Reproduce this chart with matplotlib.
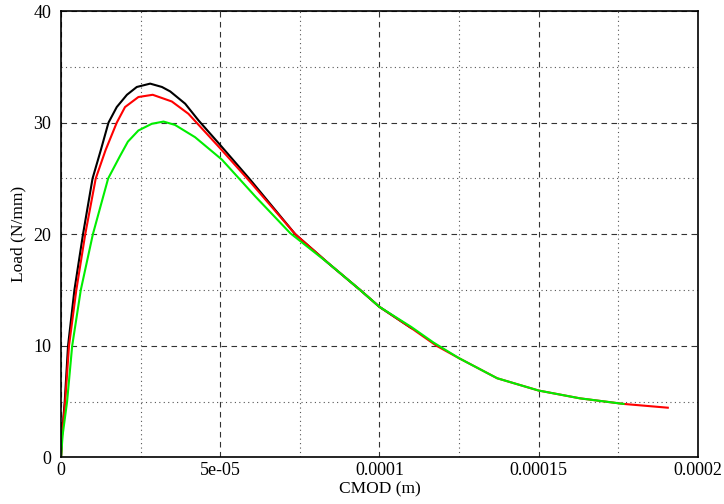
import matplotlib.pyplot as plt
from matplotlib.ticker import MultipleLocator, FuncFormatter

plt.rcParams['font.family'] = ['Liberation Serif', 'DejaVu Serif']

# CMOD (m) and load (N/mm)
cmod_black = [0, 0.3e-6, 1.16e-6, 2.2e-6, 4.2e-6, 6.9e-6, 9.9e-6, 1.25e-5, 1.49e-5, 1.75e-5,
              2.07e-5, 2.38e-5, 2.8e-5, 3.17e-5, 3.43e-5, 3.9e-5, 4.32e-5, 5.0e-5, 5.94e-5,
              7.36e-5, 8.4e-5, 9.4e-5, 1.0e-4, 1.1e-4]
load_black = [0, 2.0, 5.0, 10.0, 15.0, 20.0, 25.0, 27.55, 30.0, 31.4,
              32.5, 33.2, 33.5, 33.2, 32.8, 31.7, 30.2, 28.0, 24.9,
              20.0, 17.4, 15.0, 13.5, 11.6]

cmod_red = [0, 0.35e-6, 1.3e-6, 2.5e-6, 4.8e-6, 7.6e-6, 1.09e-5, 1.4e-5, 1.75e-5, 2.01e-5,
            2.43e-5, 2.88e-5, 3.48e-5, 4.0e-5, 4.42e-5, 5.0e-5, 5.94e-5, 7.36e-5, 8.4e-5,
            9.4e-5, 1.0e-4, 1.1e-4, 1.18e-4, 1.25e-4, 1.37e-4, 1.5e-4, 1.63e-4, 1.767e-4,
            1.906e-4]
load_red = [0, 2.0, 5.0, 10.0, 15.0, 20.0, 25.0, 27.55, 30.0, 31.4,
            32.3, 32.5, 31.9, 30.8, 29.5, 27.7, 24.7, 20.0, 17.4,
            15.0, 13.5, 11.6, 10.0, 8.9, 7.1, 6.0, 5.3, 4.8,
            4.46]

cmod_green = [0, 0.5e-6, 1.9e-6, 3.5e-6, 6.2e-6, 1.0e-5, 1.48e-5, 1.85e-5, 2.1e-5, 2.43e-5,
              2.85e-5, 3.22e-5, 3.58e-5, 4.21e-5, 5.05e-5, 6.1e-5, 7.2e-5, 7.6e-5, 8.4e-5,
              9.4e-5, 1.0e-4, 1.1e-4, 1.17e-4, 1.25e-4, 1.37e-4, 1.5e-4, 1.63e-4, 1.767e-4]
load_green = [0, 2.0, 5.0, 10.0, 15.0, 20.0, 25.0, 27.0, 28.3, 29.3,
              29.9, 30.1, 29.8, 28.7, 26.7, 23.4, 20.1, 19.2, 17.4,
              15.0, 13.5, 11.7, 10.3, 8.9, 7.1, 6.0, 5.3, 4.8]

fig = plt.figure(figsize=(7.24, 5.04), dpi=100)
ax = fig.add_axes([0.0843, 0.0923, 0.8794, 0.8857])

ax.plot(cmod_black, load_black, color='black', lw=1.5)
ax.plot(cmod_red, load_red, color='#ff0000', lw=1.5)
ax.plot(cmod_green, load_green, color='#00ee00', lw=1.5)

ax.set_xlim(0, 0.0002)
ax.set_ylim(0, 40)
ax.xaxis.set_major_locator(MultipleLocator(5e-5))
ax.xaxis.set_minor_locator(MultipleLocator(2.5e-5))
ax.yaxis.set_major_locator(MultipleLocator(10))
ax.yaxis.set_minor_locator(MultipleLocator(5))

xlabels = {0: '0', 1: '5e-05', 2: '0.0001', 3: '0.00015', 4: '0.0002'}
ax.xaxis.set_major_formatter(FuncFormatter(lambda v, p: xlabels.get(int(round(v / 5e-5)), '')))

ax.grid(which='major', color='#333333', linestyle=(0, (5, 4)), lw=0.8)
ax.grid(which='minor', color='#555555', linestyle=(0, (1, 3)), lw=0.8)
ax.tick_params(which='both', length=0, labelsize=13)
ax.tick_params(axis='x', pad=3)
ax.tick_params(axis='y', pad=7)
for s in ax.spines.values():
    s.set_linewidth(1.2)

ax.set_xlabel('CMOD (m)', fontsize=12.5, labelpad=2)
ax.set_ylabel('Load (N/mm)', fontsize=12.5, labelpad=5)

plt.savefig('out.png', dpi=100)
